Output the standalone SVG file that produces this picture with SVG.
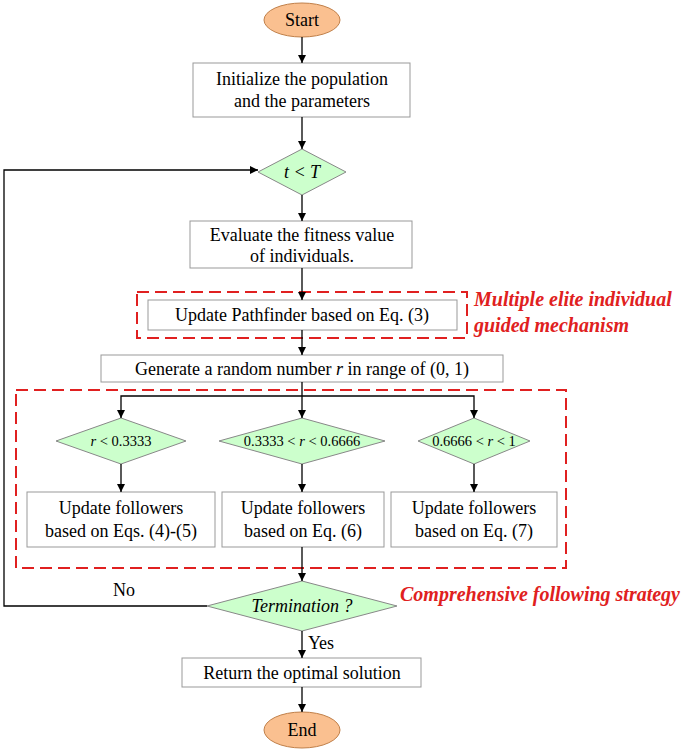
<svg xmlns="http://www.w3.org/2000/svg" width="685" height="750" viewBox="0 0 685 750">
<defs>
<marker id="ah" viewBox="0 0 10 10" refX="10" refY="5" markerWidth="8" markerHeight="8" orient="auto-start-reverse" markerUnits="userSpaceOnUse"><path d="M0,0 L10,5 L0,10 z" fill="#000"/></marker>
<style>
text{font-family:"Liberation Serif","Times New Roman",serif;font-size:18px;fill:#000;text-anchor:middle}
.box{fill:#fff;stroke:#999;stroke-width:1}
.dia{fill:#CCFFCC;stroke:#888;stroke-width:1}
.ell{fill:#FAC090;stroke:#C0804A;stroke-width:1}
.red{fill:none;stroke:#E02020;stroke-width:2;stroke-dasharray:12,6}
.rt{fill:#E02020;font-weight:bold;font-style:italic;text-anchor:start;font-size:20px}
.ln{fill:none;stroke:#000;stroke-width:1.3}
.sm{font-size:14.5px}
</style>
</defs>
<g id="start"><ellipse class="ell" cx="302" cy="20" rx="38" ry="17"/><text x="302" y="26">Start</text></g>
<g id="init"><rect class="box" x="193" y="63" width="217" height="54"/><text x="302" y="85">Initialize the population</text><text x="302" y="107">and the parameters</text></g>
<g id="cond"><polygon class="dia" points="302,149 346,172 302,195 258,172"/><text x="302" y="178" font-style="italic">t &lt; T</text></g>
<g id="eval"><rect class="box" x="190" y="221" width="222" height="47"/><text x="302" y="241">Evaluate the fitness value</text><text x="302" y="262">of  individuals.</text></g>
<g id="elite"><rect class="red" x="137" y="292" width="330" height="46"/><rect class="box" x="148" y="300" width="309" height="30"/><text x="302" y="321">Update Pathfinder based on Eq. (3)</text>
<text class="rt" x="474" y="306">Multiple elite individual</text><text class="rt" x="474" y="332">guided mechanism</text></g>
<g id="gen"><rect class="box" x="101" y="355" width="402" height="27"/><text x="302" y="375">Generate a random number <tspan font-style="italic">r</tspan> in range of (0, 1)</text></g>
<g id="strategy"><rect class="red" x="16" y="390" width="550" height="178"/><text class="rt" x="400" y="601">Comprehensive following strategy</text></g>
<g id="d1"><polygon class="dia" points="121,418 186,441 121,464 56,441"/><text class="sm" x="121" y="446"><tspan font-style="italic">r</tspan> &lt; 0.3333</text></g>
<g id="d2"><polygon class="dia" points="302,418 385,441 302,464 219,441"/><text class="sm" x="302" y="446">0.3333 &lt; <tspan font-style="italic">r</tspan> &lt; 0.6666</text></g>
<g id="d3"><polygon class="dia" points="474,418 530,441 474,464 418,441"/><text class="sm" x="474" y="446">0.6666 &lt; <tspan font-style="italic">r</tspan> &lt; 1</text></g>
<g id="b1"><rect class="box" x="27" y="492" width="188" height="55"/><text x="121" y="514">Update followers</text><text x="121" y="537">based on Eqs. (4)-(5)</text></g>
<g id="b2"><rect class="box" x="222" y="492" width="162" height="55"/><text x="303" y="514">Update followers</text><text x="303" y="537">based on Eq. (6)</text></g>
<g id="b3"><rect class="box" x="391" y="492" width="166" height="55"/><text x="474" y="514">Update followers</text><text x="474" y="537">based on Eq. (7)</text></g>
<g id="term"><polygon class="dia" points="302,581 397,606 302,631 207,606"/><text x="302" y="612" font-style="italic">Termination ?</text></g>
<g id="ret"><rect class="box" x="182" y="658" width="239" height="29"/><text x="302" y="679">Return the optimal solution</text></g>
<g id="end"><ellipse class="ell" cx="302" cy="730" rx="38" ry="18"/><text x="302" y="736">End</text></g>
<g id="connectors">
<line class="ln" x1="302" y1="37" x2="302" y2="63" marker-end="url(#ah)"/>
<line class="ln" x1="302" y1="117" x2="302" y2="149" marker-end="url(#ah)"/>
<line class="ln" x1="302" y1="195" x2="302" y2="221" marker-end="url(#ah)"/>
<line class="ln" x1="302" y1="268" x2="302" y2="300" marker-end="url(#ah)"/>
<line class="ln" x1="302" y1="330" x2="302" y2="355" marker-end="url(#ah)"/>
<line class="ln" x1="302" y1="382" x2="302" y2="418" marker-end="url(#ah)"/>
<polyline class="ln" points="121,418 121,396 474,396 474,418" marker-start="url(#ah)" marker-end="url(#ah)"/>
<line class="ln" x1="121" y1="464" x2="121" y2="492" marker-end="url(#ah)"/>
<line class="ln" x1="302" y1="464" x2="302" y2="492" marker-end="url(#ah)"/>
<line class="ln" x1="474" y1="464" x2="474" y2="492" marker-end="url(#ah)"/>
<line class="ln" x1="302" y1="547" x2="302" y2="581" marker-end="url(#ah)"/>
<polyline class="ln" points="207,606 4,606 4,170 258,170" marker-end="url(#ah)"/>
<text x="124" y="596" font-size="15">No</text>
<line class="ln" x1="302" y1="631" x2="302" y2="658" marker-end="url(#ah)"/>
<text x="321" y="649" font-size="15">Yes</text>
<line class="ln" x1="302" y1="687" x2="302" y2="712" marker-end="url(#ah)"/>
</g>
</svg>
